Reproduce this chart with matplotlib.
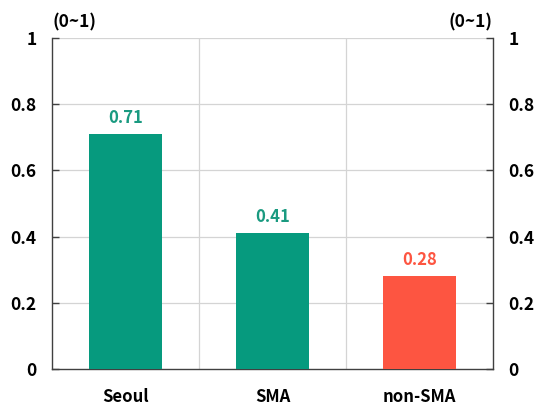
import matplotlib.pyplot as plt

regions = ['Seoul', 'SMA', 'non-SMA']
scores = [0.71, 0.41, 0.28]
bar_colors = ['#069a7e', '#069a7e', '#fd5541']
label_colors = ['#1a9a80', '#1a9a80', '#fd5541']
y_ticks = [0, 0.2, 0.4, 0.6, 0.8, 1.0]
y_tick_labels = ['0', '0.2', '0.4', '0.6', '0.8', '1']

plt.rcParams['font.family'] = ['Noto Sans CJK KR', 'DejaVu Sans']
plt.rcParams['font.weight'] = 'bold'
FS = 12

fig = plt.figure(figsize=(5.34, 4.07), dpi=100)
ax = fig.add_axes([0.0974, 0.0934, 0.8258, 0.8132])

x = list(range(len(regions)))
ax.bar(x, scores, width=0.5, color=bar_colors, zorder=3)
for xi, val, c in zip(x, scores, label_colors):
    ax.annotate(f'{val:.2f}', (xi, val), xytext=(0, 5), textcoords='offset points',
                ha='center', va='bottom', color=c, fontsize=FS, fontweight='bold')

ax.set_xlim(-0.5, 2.5)
ax.set_ylim(0, 1)
ax.set_xticks(x)
ax.set_xticklabels(regions, fontsize=FS, fontweight='bold')
ax.tick_params(axis='x', length=0, pad=14)

ax.set_yticks(y_ticks)
ax.set_yticklabels(y_tick_labels, fontsize=12.5, fontweight='bold')
ax.tick_params(axis='y', direction='in', length=5, width=1, color='#404040',
               pad=11, left=True, right=True, labelleft=True, labelright=True)

# light grid: horizontal at each tick, vertical between categories
for yv in y_ticks[1:]:
    ax.axhline(yv, color='#d4d4d4', lw=0.9, zorder=1)
for xv in [0.5, 1.5]:
    ax.axvline(xv, color='#d4d4d4', lw=0.9, zorder=1)

ax.spines['top'].set_visible(False)
for side in ['left', 'right', 'bottom']:
    ax.spines[side].set_color('#404040')
    ax.spines[side].set_linewidth(1.0)

fig.text(0.0974, 0.945, '(0~1)', ha='left', va='center', fontsize=12.5, fontweight='bold')
fig.text(0.923, 0.945, '(0~1)', ha='right', va='center', fontsize=12.5, fontweight='bold')

fig.savefig('out.png', dpi=100)
